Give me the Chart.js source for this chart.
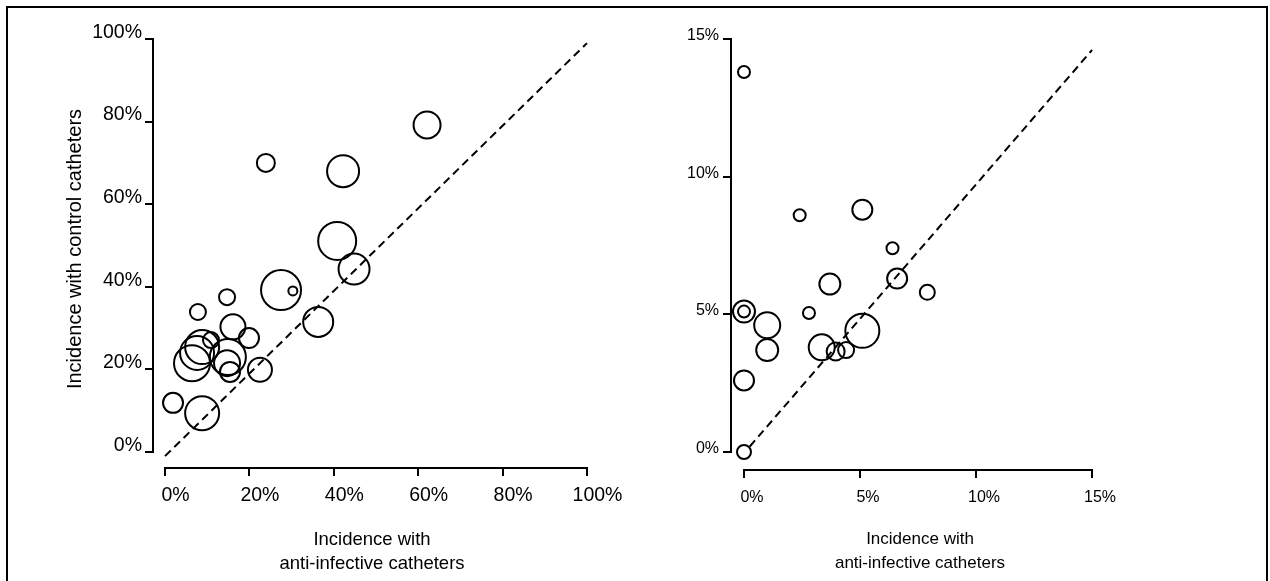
<!DOCTYPE html>
<html>
<head>
<meta charset="utf-8">
<script src="https://cdn.jsdelivr.net/npm/chart.js@4.4.1/dist/chart.umd.min.js"></script>
<style>
  html, body { margin: 0; padding: 0; background: #fff; }
  body { width: 1270px; height: 581px; position: relative; overflow: hidden; }
  #frame { position: absolute; left: 6px; top: 6px; width: 1258px; height: 600px;
           border: 2px solid #000; border-bottom: none; }
  canvas { position: absolute; top: 0; }
  #left { left: 0; }
  #right { left: 640px; }
</style>
</head>
<body>
<div id="frame"></div>
<canvas id="left" width="640" height="581"></canvas>
<canvas id="right" width="630" height="581"></canvas>
<script>
// ---------- data: left panel (all device-related infections) ----------
const leftX = [23.9, 42.2, 40.8, 44.8, 27.5, 30.3, 62.1, 14.7, 7.8, 16.1, 19.9,
               10.9, 8.8, 7.6, 6.4, 14.9, 14.7, 15.4, 22.5, 1.9, 8.8, 36.3];
const leftY = [70.0, 68.0, 51.1, 44.3, 39.2, 39.0, 79.2, 37.5, 33.9, 30.3, 27.6,
               27.1, 25.4, 24.0, 21.5, 23.0, 21.5, 19.4, 19.9, 11.9, 9.4, 31.5];
const leftWeight = [9, 16, 19, 15.5, 20, 4.5, 13.5, 8, 8, 12.5, 10,
                    8, 17, 17, 18, 18, 13, 10, 12, 10, 17, 15];
const leftXTicks = [0, 20, 40, 60, 80, 100];
const leftXTickLabels = ['0%', '20%', '40%', '60%', '80%', '100%'];
const leftYTicks = [0, 20, 40, 60, 80, 100];
const leftYTickLabels = ['0%', '20%', '40%', '60%', '80%', '100%'];
const leftDiagX = [0, 100];
const leftDiagY = [-1, 99];

// ---------- data: right panel ----------
const rightX = [0, 2.4, 5.1, 6.4, 3.7, 6.6, 7.9, 0, 0, 2.8, 1.0, 1.0, 0,
                3.35, 3.95, 4.4, 5.1, 0];
const rightY = [13.8, 8.6, 8.8, 7.4, 6.1, 6.3, 5.8, 5.1, 5.1, 5.05, 4.6, 3.7, 2.6,
                3.8, 3.65, 3.7, 4.4, 0];
const rightWeight = [6, 6, 10, 6, 10.5, 10, 7.5, 11, 6, 6, 13, 11, 10,
                     13, 9, 8, 17, 7];
const rightXTicks = [0, 5, 10, 15];
const rightXTickLabels = ['0%', '5%', '10%', '15%'];
const rightYTicks = [0, 5, 10, 15];
const rightYTickLabels = ['0%', '5%', '10%', '15%'];
const rightDiagX = [0.25, 15];
const rightDiagY = [0.2, 14.6];

const xTitle = ['Incidence with', 'anti-infective catheters'];
const yTitleLeft = 'Incidence with control catheters';

const FONT = "'Liberation Sans', Arial, sans-serif";

function pts(xs, ys, rs) {
  return xs.map((x, i) => rs ? {x: x, y: ys[i], r: rs[i]} : {x: x, y: ys[i]});
}

const rangeFrame = {
  id: 'rangeFrame',
  afterDraw(chart, args, opts) {
    const {ctx, chartArea, scales} = chart;
    const xs = scales.x, ys = scales.y;
    ctx.save();
    ctx.strokeStyle = '#000';
    ctx.lineWidth = 2;
    ctx.lineCap = 'square';
    ctx.beginPath();
    const yx = chartArea.left;
    ctx.moveTo(yx, ys.getPixelForValue(opts.yTicks[0]));
    ctx.lineTo(yx, ys.getPixelForValue(opts.yTicks[opts.yTicks.length - 1]));
    const xy = chartArea.bottom;
    ctx.moveTo(xs.getPixelForValue(opts.xTicks[0]), xy);
    ctx.lineTo(xs.getPixelForValue(opts.xTicks[opts.xTicks.length - 1]), xy);
    ctx.stroke();
    ctx.restore();
  }
};

function makeChart(id, cfg) {
  return new Chart(document.getElementById(id), {
    type: 'bubble',
    data: {
      datasets: [
        {
          type: 'line',
          data: pts(cfg.diagX, cfg.diagY),
          borderColor: '#000',
          borderWidth: 2,
          borderDash: [8, 5],
          pointRadius: 0,
          fill: false,
          clip: false
        },
        {
          type: 'bubble',
          data: pts(cfg.x, cfg.y, cfg.r),
          borderColor: '#000',
          backgroundColor: 'rgba(0,0,0,0)',
          borderWidth: 2,
          hoverRadius: 0,
          clip: false
        }
      ]
    },
    plugins: [rangeFrame],
    options: {
      responsive: false,
      animation: false,
      events: [],
      layout: { padding: { left: 0, top: 30, right: cfg.padRight, bottom: 0 } },
      plugins: {
        legend: { display: false },
        tooltip: { enabled: false },
        rangeFrame: { xTicks: cfg.xTicks, yTicks: cfg.yTicks }
      },
      scales: {
        x: {
          type: 'linear',
          min: cfg.xMin, max: cfg.xMax,
          afterBuildTicks: s => { s.ticks = cfg.xTicks.map(v => ({value: v})); },
          afterFit: s => { s.height = cfg.xAxisH; },
          border: { display: false },
          grid: { drawOnChartArea: false, drawTicks: true, tickLength: 8, color: '#000', lineWidth: 2 },
          ticks: {
            autoSkip: false, maxRotation: 0, color: '#000',
            padding: cfg.xTickPad, labelOffset: cfg.xLabelOffset,
            font: { family: FONT, size: cfg.tickSize },
            callback: (v, i) => cfg.xTickLabels[i]
          },
          title: {
            display: true, text: xTitle, color: '#000',
            font: { family: FONT, size: cfg.titleSize, lineHeight: cfg.titleLH },
            padding: { top: 0, bottom: cfg.titlePadBottom }
          }
        },
        y: {
          type: 'linear',
          min: cfg.yMin, max: cfg.yMax,
          afterBuildTicks: s => { s.ticks = cfg.yTicks.map(v => ({value: v})); },
          afterFit: s => { s.width = cfg.yAxisW; },
          border: { display: false },
          grid: { drawOnChartArea: false, drawTicks: true, tickLength: 8, color: '#000', lineWidth: 2 },
          ticks: {
            autoSkip: false, color: '#000',
            padding: cfg.yTickPad, labelOffset: cfg.yLabelOffset,
            font: { family: FONT, size: cfg.tickSize },
            callback: (v, i) => cfg.yTickLabels[i]
          },
          title: {
            display: !!cfg.yTitle, text: cfg.yTitle || '', color: '#000',
            font: { family: FONT, size: 20, lineHeight: 1.2 },
            padding: { top: 63, bottom: 0 }
          }
        }
      }
    }
  });
}

makeChart('left', {
  x: leftX, y: leftY, r: leftWeight,
  diagX: leftDiagX, diagY: leftDiagY,
  xTicks: leftXTicks, xTickLabels: leftXTickLabels,
  yTicks: leftYTicks, yTickLabels: leftYTickLabels,
  xMin: -2.844, xMax: 100.95, yMin: -3.874, yMax: 102.18,
  padRight: 49, xAxisH: 113, yAxisW: 153,
  xTickPad: 8, xLabelOffset: 10.5, yTickPad: 3, yLabelOffset: -6.5,
  tickSize: 19.5, titleSize: 18.5, titleLH: 1.3, titlePadBottom: 5.4,
  yTitle: yTitleLeft
});

makeChart('right', {
  x: rightX, y: rightY, r: rightWeight,
  diagX: rightDiagX, diagY: rightDiagY,
  xTicks: rightXTicks, xTickLabels: rightXTickLabels,
  yTicks: rightYTicks, yTickLabels: rightYTickLabels,
  xMin: -0.56, xMax: 15.73, yMin: -0.654, yMax: 15.327,
  padRight: 161, xAxisH: 111, yAxisW: 91,
  xTickPad: 10, xLabelOffset: 8, yTickPad: 4, yLabelOffset: -3.5,
  tickSize: 16, titleSize: 17, titleLH: 1.39, titlePadBottom: 5.8,
  yTitle: null
});
</script>
</body>
</html>
